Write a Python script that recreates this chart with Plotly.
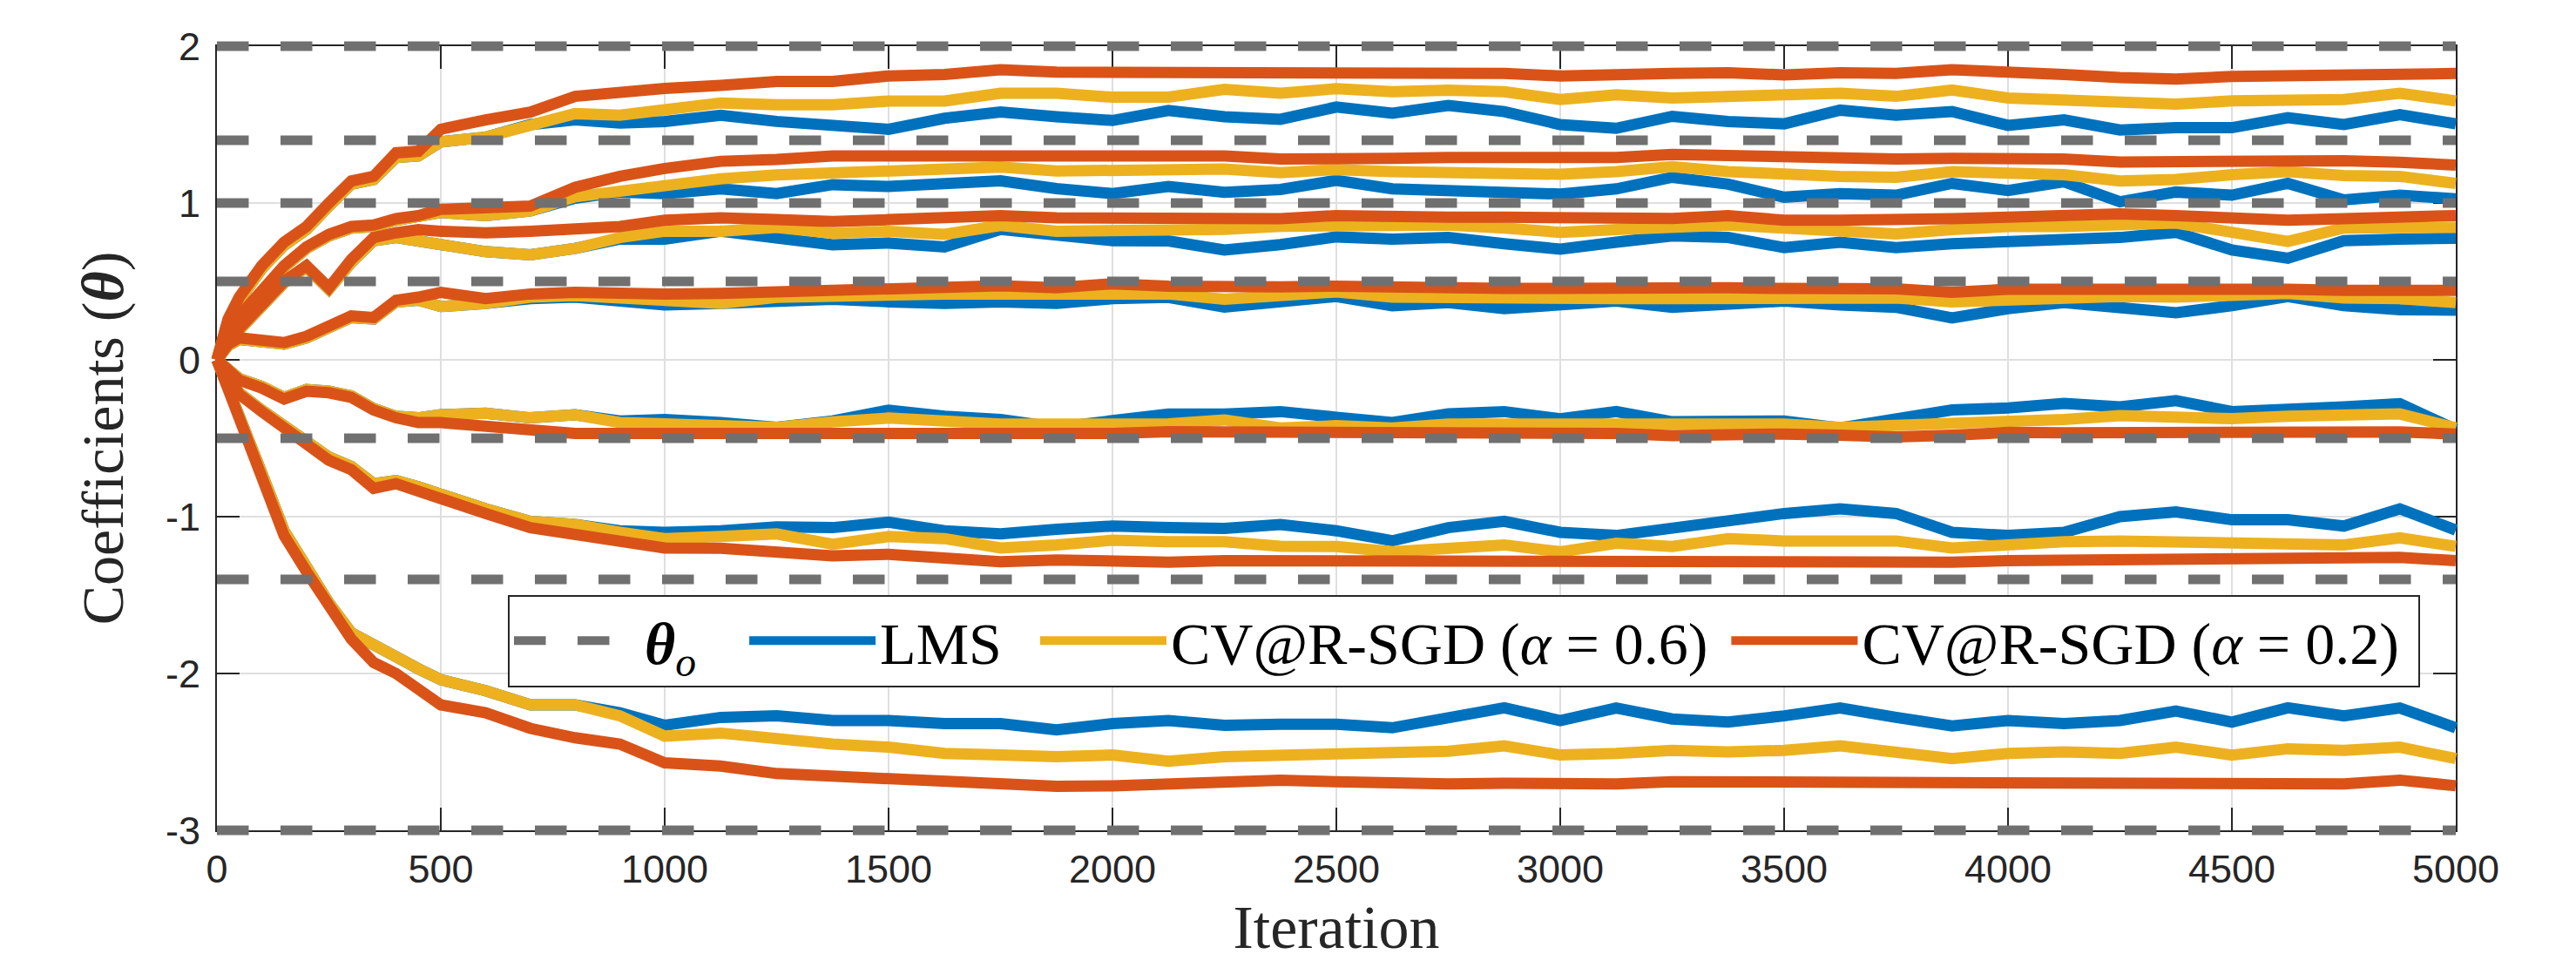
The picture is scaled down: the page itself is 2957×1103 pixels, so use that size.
import plotly.graph_objects as go

# ---------------- data ----------------
iterations = [0, 25, 50, 100, 150, 200, 250, 300, 350, 400, 450, 500, 600, 700, 800, 900, 1000,
              1125, 1250, 1375, 1500, 1625, 1750, 1875, 2000, 2125, 2250, 2375, 2500, 2625, 2750, 2875,
              3000, 3125, 3250, 3375, 3500, 3625, 3750, 3875, 4000, 4125, 4250, 4375, 4500, 4625, 4750,
              4875, 5000]

theta_o = [2, 1.4, 1, 0.5, -0.5, -1.4, -3]

# LMS
lms_1 = [0, 0.25, 0.38, 0.58, 0.73, 0.83, 0.98, 1.12, 1.15, 1.29, 1.30, 1.39, 1.42, 1.50, 1.53, 1.51, 1.52,
         1.56, 1.52, 1.49, 1.47, 1.54, 1.58, 1.55, 1.526, 1.59, 1.55, 1.534, 1.612, 1.573, 1.622, 1.583,
         1.50, 1.476, 1.553, 1.52, 1.505, 1.592, 1.56, 1.583, 1.495, 1.53, 1.466, 1.48, 1.48, 1.544, 1.50, 1.563, 1.505]
lms_2 = [0, 0.17, 0.27, 0.44, 0.59, 0.71, 0.79, 0.84, 0.85, 0.89, 0.91, 0.94, 0.92, 0.95, 1.03, 1.07, 1.06,
         1.09, 1.06, 1.117, 1.105, 1.117, 1.142, 1.092, 1.06, 1.105, 1.068, 1.086, 1.144, 1.09, 1.08, 1.076,
         1.057, 1.09, 1.164, 1.12, 1.037, 1.06, 1.05, 1.125, 1.08, 1.135, 1.008, 1.07, 1.05, 1.125, 1.02, 1.05, 1.027]
lms_3 = [0, 0.11, 0.19, 0.34, 0.49, 0.59, 0.45, 0.62, 0.76, 0.78, 0.76, 0.73, 0.69, 0.67, 0.71, 0.77, 0.77,
         0.82, 0.782, 0.733, 0.745, 0.72, 0.832, 0.80, 0.76, 0.758, 0.70, 0.735, 0.784, 0.77, 0.78, 0.74,
         0.706, 0.75, 0.79, 0.78, 0.716, 0.75, 0.716, 0.74, 0.75, 0.77, 0.78, 0.813, 0.70, 0.648, 0.76, 0.77, 0.775]
lms_4 = [0, 0.09, 0.13, 0.12, 0.10, 0.14, 0.21, 0.27, 0.26, 0.37, 0.38, 0.34, 0.36, 0.39, 0.40, 0.38, 0.35,
         0.36, 0.37, 0.386, 0.37, 0.36, 0.37, 0.36, 0.39, 0.398, 0.336, 0.375, 0.404, 0.345, 0.365, 0.326,
         0.35, 0.375, 0.335, 0.36, 0.375, 0.35, 0.335, 0.267, 0.326, 0.365, 0.326, 0.30, 0.345, 0.404, 0.345, 0.32, 0.316]
lms_5 = [0, -0.06, -0.12, -0.17, -0.24, -0.19, -0.20, -0.23, -0.31, -0.36, -0.37, -0.35, -0.34, -0.37, -0.35, -0.39, -0.38,
         -0.40, -0.43, -0.39, -0.321, -0.36, -0.38, -0.43, -0.383, -0.346, -0.346, -0.33, -0.366, -0.40, -0.345, -0.33,
         -0.376, -0.33, -0.395, -0.39, -0.39, -0.434, -0.38, -0.32, -0.307, -0.278, -0.30, -0.26, -0.33, -0.32, -0.30, -0.28, -0.444]
lms_6 = [0, -0.11, -0.21, -0.32, -0.43, -0.52, -0.62, -0.68, -0.79, -0.77, -0.81, -0.86, -0.95, -1.03, -1.05, -1.09, -1.10,
         -1.09, -1.065, -1.07, -1.035, -1.09, -1.11, -1.08, -1.06, -1.07, -1.075, -1.05, -1.09, -1.154, -1.07, -1.03,
         -1.10, -1.12, -1.07, -1.02, -0.98, -0.95, -0.98, -1.10, -1.12, -1.10, -1.0, -0.97, -1.02, -1.02, -1.06, -0.95, -1.085]
lms_7 = [0, -0.17, -0.38, -0.72, -1.09, -1.32, -1.55, -1.74, -1.82, -1.91, -1.97, -2.04, -2.11, -2.20, -2.20, -2.25, -2.33,
         -2.28, -2.27, -2.30, -2.30, -2.32, -2.32, -2.36, -2.32, -2.30, -2.33, -2.323, -2.323, -2.346, -2.288, -2.219,
         -2.30, -2.22, -2.29, -2.31, -2.27, -2.22, -2.28, -2.334, -2.30, -2.32, -2.30, -2.24, -2.31, -2.219, -2.27, -2.22, -2.346]

# CV@R-SGD (alpha = 0.6)
cvar06_1 = [0, 0.25, 0.38, 0.58, 0.73, 0.83, 0.98, 1.12, 1.15, 1.29, 1.30, 1.39, 1.42, 1.50, 1.57, 1.56, 1.59,
            1.638, 1.626, 1.626, 1.65, 1.65, 1.70, 1.70, 1.675, 1.675, 1.725, 1.70, 1.729, 1.71, 1.72, 1.71,
            1.66, 1.69, 1.67, 1.675, 1.68, 1.70, 1.68, 1.72, 1.67, 1.66, 1.651, 1.63, 1.651, 1.66, 1.66, 1.70, 1.651]
cvar06_2 = [0, 0.17, 0.27, 0.44, 0.59, 0.71, 0.79, 0.84, 0.85, 0.89, 0.91, 0.94, 0.92, 0.95, 1.04, 1.08, 1.11,
            1.154, 1.179, 1.19, 1.204, 1.204, 1.229, 1.204, 1.204, 1.216, 1.216, 1.193, 1.213, 1.20, 1.193, 1.19,
            1.183, 1.20, 1.232, 1.20, 1.18, 1.17, 1.164, 1.20, 1.19, 1.18, 1.14, 1.15, 1.18, 1.20, 1.175, 1.17, 1.125]
cvar06_3 = [0, 0.11, 0.19, 0.34, 0.49, 0.59, 0.45, 0.62, 0.76, 0.78, 0.76, 0.73, 0.69, 0.67, 0.71, 0.78, 0.82,
            0.82, 0.844, 0.807, 0.82, 0.80, 0.857, 0.82, 0.82, 0.832, 0.832, 0.852, 0.86, 0.86, 0.86, 0.84,
            0.813, 0.83, 0.84, 0.86, 0.84, 0.82, 0.803, 0.83, 0.85, 0.85, 0.86, 0.872, 0.813, 0.755, 0.84, 0.845, 0.845]
cvar06_4 = [0, 0.09, 0.13, 0.12, 0.10, 0.14, 0.21, 0.27, 0.26, 0.37, 0.38, 0.34, 0.36, 0.40, 0.41, 0.40, 0.38,
            0.36, 0.398, 0.41, 0.41, 0.42, 0.42, 0.42, 0.435, 0.42, 0.386, 0.414, 0.433, 0.40, 0.394, 0.394,
            0.394, 0.39, 0.39, 0.39, 0.394, 0.39, 0.394, 0.37, 0.385, 0.40, 0.404, 0.40, 0.404, 0.423, 0.394, 0.39, 0.365]
cvar06_5 = [0, -0.06, -0.12, -0.17, -0.24, -0.19, -0.20, -0.23, -0.31, -0.36, -0.37, -0.35, -0.34, -0.37, -0.35, -0.40, -0.41,
            -0.42, -0.43, -0.396, -0.371, -0.39, -0.41, -0.41, -0.408, -0.408, -0.383, -0.434, -0.42, -0.434, -0.41, -0.41,
            -0.405, -0.41, -0.42, -0.415, -0.41, -0.43, -0.42, -0.395, -0.39, -0.38, -0.356, -0.37, -0.375, -0.36, -0.356, -0.345, -0.434]
cvar06_6 = [0, -0.11, -0.21, -0.32, -0.43, -0.52, -0.62, -0.68, -0.79, -0.77, -0.81, -0.86, -0.95, -1.03, -1.05, -1.10, -1.14,
            -1.127, -1.11, -1.176, -1.127, -1.14, -1.20, -1.18, -1.15, -1.16, -1.16, -1.189, -1.19, -1.224, -1.20, -1.18,
            -1.224, -1.17, -1.19, -1.14, -1.155, -1.16, -1.155, -1.20, -1.175, -1.16, -1.155, -1.16, -1.155, -1.16, -1.18, -1.135, -1.19]
cvar06_7 = [0, -0.17, -0.38, -0.72, -1.09, -1.32, -1.55, -1.74, -1.82, -1.91, -1.97, -2.04, -2.11, -2.20, -2.20, -2.27, -2.40,
            -2.38, -2.42, -2.45, -2.47, -2.51, -2.52, -2.53, -2.52, -2.559, -2.53, -2.52, -2.52, -2.51, -2.496, -2.461,
            -2.52, -2.51, -2.49, -2.50, -2.49, -2.461, -2.50, -2.543, -2.51, -2.50, -2.51, -2.47, -2.52, -2.48, -2.49, -2.47, -2.543]

# CV@R-SGD (alpha = 0.2)
cvar02_1 = [0, 0.26, 0.40, 0.60, 0.75, 0.85, 1.00, 1.14, 1.17, 1.32, 1.33, 1.47, 1.53, 1.58, 1.68, 1.71, 1.73,
            1.75, 1.775, 1.775, 1.81, 1.82, 1.85, 1.835, 1.835, 1.825, 1.825, 1.826, 1.826, 1.82, 1.826, 1.826,
            1.81, 1.826, 1.826, 1.83, 1.817, 1.83, 1.826, 1.85, 1.826, 1.82, 1.80, 1.79, 1.807, 1.81, 1.817, 1.826, 1.826]
cvar02_2 = [0, 0.18, 0.28, 0.45, 0.60, 0.72, 0.80, 0.85, 0.86, 0.90, 0.92, 0.96, 0.97, 0.98, 1.10, 1.17, 1.22,
            1.266, 1.278, 1.30, 1.30, 1.30, 1.29, 1.29, 1.30, 1.30, 1.30, 1.28, 1.29, 1.285, 1.29, 1.285,
            1.281, 1.29, 1.31, 1.30, 1.30, 1.29, 1.281, 1.285, 1.29, 1.28, 1.261, 1.265, 1.27, 1.27, 1.27, 1.26, 1.242]
cvar02_3 = [0, 0.12, 0.20, 0.35, 0.50, 0.60, 0.46, 0.64, 0.78, 0.81, 0.83, 0.82, 0.81, 0.82, 0.83, 0.85, 0.89,
            0.906, 0.894, 0.882, 0.894, 0.906, 0.919, 0.906, 0.906, 0.906, 0.894, 0.90, 0.92, 0.91, 0.91, 0.91,
            0.91, 0.90, 0.901, 0.92, 0.89, 0.89, 0.89, 0.90, 0.91, 0.92, 0.93, 0.92, 0.91, 0.89, 0.90, 0.91, 0.92]
cvar02_4 = [0, 0.10, 0.14, 0.13, 0.11, 0.15, 0.22, 0.28, 0.27, 0.38, 0.40, 0.43, 0.39, 0.42, 0.43, 0.42, 0.42,
            0.423, 0.435, 0.435, 0.448, 0.472, 0.472, 0.46, 0.485, 0.47, 0.46, 0.465, 0.47, 0.46, 0.455, 0.455,
            0.455, 0.46, 0.453, 0.46, 0.455, 0.455, 0.453, 0.43, 0.45, 0.45, 0.453, 0.455, 0.453, 0.45, 0.443, 0.445, 0.443]
cvar02_5 = [0, -0.07, -0.13, -0.18, -0.25, -0.20, -0.21, -0.24, -0.32, -0.37, -0.40, -0.40, -0.42, -0.45, -0.47, -0.47, -0.47,
            -0.482, -0.482, -0.482, -0.47, -0.482, -0.47, -0.482, -0.47, -0.458, -0.458, -0.47, -0.463, -0.47, -0.47, -0.47,
            -0.473, -0.47, -0.483, -0.475, -0.473, -0.48, -0.492, -0.48, -0.463, -0.465, -0.463, -0.46, -0.453, -0.455, -0.453, -0.46, -0.473]
cvar02_6 = [0, -0.12, -0.22, -0.33, -0.44, -0.53, -0.64, -0.70, -0.82, -0.79, -0.84, -0.89, -0.98, -1.07, -1.11, -1.15, -1.20,
            -1.202, -1.22, -1.25, -1.24, -1.26, -1.288, -1.276, -1.29, -1.29, -1.28, -1.281, -1.275, -1.29, -1.281, -1.285,
            -1.29, -1.29, -1.281, -1.28, -1.281, -1.28, -1.281, -1.29, -1.281, -1.28, -1.281, -1.275, -1.27, -1.27, -1.27, -1.26, -1.281]
cvar02_7 = [0, -0.18, -0.40, -0.75, -1.12, -1.35, -1.58, -1.78, -1.93, -2.00, -2.10, -2.20, -2.25, -2.35, -2.41, -2.45, -2.57,
            -2.59, -2.638, -2.658, -2.678, -2.698, -2.708, -2.72, -2.717, -2.708, -2.69, -2.68, -2.69, -2.70, -2.704, -2.70,
            -2.704, -2.704, -2.69, -2.69, -2.69, -2.69, -2.69, -2.70, -2.704, -2.70, -2.69, -2.69, -2.69, -2.70, -2.704, -2.68, -2.716]

x_tick_values = [0, 500, 1000, 1500, 2000, 2500, 3000, 3500, 4000, 4500, 5000]
x_tick_labels = ["0", "500", "1000", "1500", "2000", "2500", "3000", "3500", "4000", "4500", "5000"]
y_tick_values = [-3, -2, -1, 0, 1, 2]
y_tick_labels = ["-3", "-2", "-1", "0", "1", "2"]

series_names = ["<b><i>θ</i></b><sub><i>o</i></sub>", "LMS",
                "CV@R-SGD (<i>α</i> = 0.6)", "CV@R-SGD (<i>α</i> = 0.2)"]
x_title = "Iteration"
y_title = "Coefficients (<b><i>θ</i></b>)"

lms = [lms_1, lms_2, lms_3, lms_4, lms_5, lms_6, lms_7]
cvar06 = [cvar06_1, cvar06_2, cvar06_3, cvar06_4, cvar06_5, cvar06_6, cvar06_7]
cvar02 = [cvar02_1, cvar02_2, cvar02_3, cvar02_4, cvar02_5, cvar02_6, cvar02_7]

# ---------------- layout geometry (pixels) ----------------
W, H = 2957, 1103
ML, MR, MT, MB = 229, 118, 33, 130
AX_L, AX_R, AX_T, AX_B = 249, 2819, 53, 953      # visible axes box
PAD = 14                                           # extra room so thick lines are not clipped
PW, PH = W - ML - MR, H - MT - MB
NB = "\u00a0"                                      # legend spacing between entries

def dom_x(a, b):
    return [(a - ML) / PW, (b - ML) / PW]

def dom_y(top, bottom):
    return [(H - MB - bottom) / PH, (H - MB - top) / PH]

x0, x1 = x_tick_values[0], x_tick_values[-1]
y0, y1 = y_tick_values[0], y_tick_values[-1]
px_per_x = (AX_R - AX_L) / (x1 - x0)
px_per_y = (AX_B - AX_T) / (y1 - y0)

def stack(curves):
    xs, ys = [], []
    for c in curves:
        xs += iterations + [None]
        ys += c + [None]
    return xs, ys

BLUE, YELLOW, ORANGE, GRAY = "#0072BD", "#EDB120", "#D95319", "#707070"
AXC = "#262626"
SERIF = "Liberation Serif, Times New Roman, serif"

fig = go.Figure()

# frame subplot (axes, grid, ticks) - an invisible anchor trace keeps it drawn
fig.add_trace(go.Scatter(x=[x0, x1], y=[y0, y1], mode="markers", marker=dict(opacity=0),
                         showlegend=False, hoverinfo="skip", xaxis="x", yaxis="y"))

for name, curves, color, rank in [(series_names[1] + NB * 2, lms, BLUE, 2),
                                  (series_names[2] + NB, cvar06, YELLOW, 3),
                                  (series_names[3] + NB, cvar02, ORANGE, 4)]:
    xs, ys = stack(curves)
    fig.add_trace(go.Scatter(x=xs, y=ys, mode="lines", name=name, legendrank=rank,
                             line=dict(color=color, width=13), xaxis="x2", yaxis="y2",
                             hoverinfo="skip"))

tx, ty = [], []
for v in theta_o:
    tx += [x0, x1, None]
    ty += [v, v, None]
fig.add_trace(go.Scatter(x=tx, y=ty, mode="lines", name=series_names[0] + NB * 3, legendrank=1,
                         line=dict(color=GRAY, width=11, dash="36.5px,36.5px"),
                         xaxis="x2", yaxis="y2", hoverinfo="skip"))

tick_font = dict(family="Liberation Sans, Arial, sans-serif", size=45, color=AXC)

common = dict(showline=True, linecolor=AXC, linewidth=2, mirror="ticks", ticks="inside",
              ticklen=26, tickwidth=2, tickcolor=AXC, showgrid=True, gridcolor="#dfdfdf",
              gridwidth=2, zeroline=False, tickfont=tick_font, layer="below traces")

fig.update_layout(
    width=W, height=H,
    margin=dict(l=ML, r=MR, t=MT, b=MB, autoexpand=False),
    paper_bgcolor="white", plot_bgcolor="rgba(0,0,0,0)",
    xaxis=dict(domain=dom_x(AX_L, AX_R), range=[x0, x1], anchor="y",
               tickmode="array", tickvals=x_tick_values, ticktext=x_tick_labels,
               ticklabelstandoff=4,
               title=dict(text=x_title, font=dict(family=SERIF, size=70, color=AXC), standoff=30),
               **common),
    yaxis=dict(domain=dom_y(AX_T, AX_B), range=[y0, y1], anchor="x",
               tickmode="array", tickvals=y_tick_values, ticktext=y_tick_labels,
               ticklabelstandoff=8,
               title=dict(text=y_title, font=dict(family=SERIF, size=68, color=AXC), standoff=26),
               **common),
    xaxis2=dict(domain=dom_x(AX_L - PAD, AX_R + PAD),
                range=[x0 - PAD / px_per_x, x1 + PAD / px_per_x], anchor="y2", visible=False),
    yaxis2=dict(domain=dom_y(AX_T - PAD, AX_B + PAD),
                range=[y0 - PAD / px_per_y, y1 + PAD / px_per_y], anchor="x2", visible=False),
    legend=dict(orientation="h", x=(583 - ML) / PW, y=(H - MB - 735.5) / PH,
                xanchor="left", yanchor="middle", bgcolor="white", bordercolor=AXC, borderwidth=2,
                font=dict(family=SERIF, size=68, color="black"),
                itemwidth=145, traceorder="normal"),
    showlegend=True,
)

fig.write_html("out.html", config={"displayModeBar": False},
               post_script="document.body.style.margin='0px';document.body.style.overflow='hidden';")
